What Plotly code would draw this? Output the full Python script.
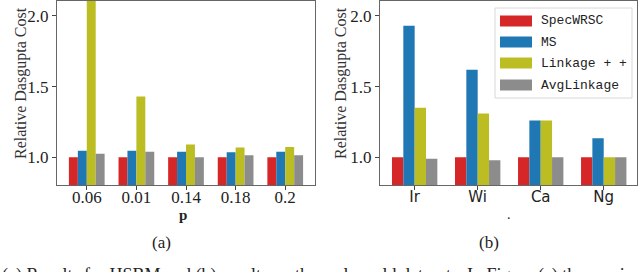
import plotly.graph_objects as go

# ---------------- data ----------------
methods = ["SpecWRSC", "MS", "Linkage++", "AvgLinkage"]
legend_labels = ["SpecWRSC", "MS", "Linkage + +", "AvgLinkage"]
colors = ["#d62728", "#1f77b4", "#bcbd22", "#8c8c8c"]

p_values = ["0.06", "0.01", "0.14", "0.18", "0.2"]
hsbm_specwrsc = [1.0, 1.0, 1.0, 1.0, 1.0]
hsbm_ms = [1.047, 1.047, 1.04, 1.035, 1.04]
hsbm_linkage = [2.2, 1.43, 1.09, 1.07, 1.073]
hsbm_avg = [1.026, 1.04, 1.0, 1.014, 1.014]

datasets = ["Ir", "Wi", "Ca", "Ng"]
real_specwrsc = [1.0, 1.0, 1.0, 1.0]
real_ms = [1.93, 1.62, 1.26, 1.135]
real_linkage = [1.35, 1.31, 1.26, 1.0]
real_avg = [0.99, 0.98, 1.0, 1.0]

y_ticks = [1.0, 1.5, 2.0]

hsbm = [hsbm_specwrsc, hsbm_ms, hsbm_linkage, hsbm_avg]
real = [real_specwrsc, real_ms, real_linkage, real_avg]

W, H = 640, 272
def px(x):
    return x / W
def py(y):
    return 1 - y / H

fig = go.Figure()
for i, m in enumerate(methods):
    fig.add_trace(go.Bar(x=p_values, y=hsbm[i], name=m, marker_color=colors[i],
                         marker_line_width=0, xaxis="x", yaxis="y", showlegend=False,
                         offsetgroup=str(i)))
    fig.add_trace(go.Bar(x=datasets, y=real[i], name=m, marker_color=colors[i],
                         marker_line_width=0, xaxis="x2", yaxis="y2", showlegend=False,
                         offsetgroup=str(i)))

serif = "Liberation Serif, serif"
axis_common = dict(showline=True, mirror=True, linecolor="#666", linewidth=1,
                   ticks="outside", ticklen=4, tickcolor="#444", showgrid=False,
                   zeroline=False)

ydom = [py(185), py(1)]
fig.update_layout(
    width=W, height=H, margin=dict(l=0, r=0, t=0, b=0),
    paper_bgcolor="white", plot_bgcolor="white",
    barmode="group", bargap=0.28, bargroupgap=0,
    xaxis=dict(domain=[px(57), px(315)], type="category", range=[-0.6, 4.6],
               anchor="y", ticklabelstandoff=-7,
               tickfont=dict(family=serif, size=17, color="#222"), **axis_common),
    yaxis=dict(domain=ydom, range=[0.804, 2.106], anchor="x", tickvals=y_ticks,
               ticktext=[f"{v:.1f}" for v in y_ticks],
               tickfont=dict(family=serif, size=17, color="#222"), **axis_common),
    xaxis2=dict(domain=[px(380), px(636.5)], type="category", range=[-0.55, 3.52],
                anchor="y2", ticklabelstandoff=-6,
                tickfont=dict(family="DejaVu Sans", size=15, color="#222"), **axis_common),
    yaxis2=dict(domain=ydom, range=[0.804, 2.106], anchor="x2", tickvals=y_ticks,
                ticktext=[f"{v:.1f}" for v in y_ticks],
                tickfont=dict(family=serif, size=17, color="#222"), **axis_common),
)

ann = []
# y-axis titles
for xc in (21, 341):
    ann.append(dict(x=px(xc), y=py(83), xref="paper", yref="paper", text="Relative Dasgupta Cost",
                    textangle=-90, showarrow=False, font=dict(family=serif, size=16, color="#333"),
                    xanchor="center", yanchor="middle"))
# x-axis titles
ann.append(dict(x=px(183), y=py(215), xref="paper", yref="paper", text="<b>p</b>", showarrow=False,
                font=dict(family=serif, size=15, color="#222"), xanchor="center", yanchor="middle"))
ann.append(dict(x=px(509), y=py(214), xref="paper", yref="paper", text=".", showarrow=False,
                font=dict(family=serif, size=14, color="#222"), xanchor="center", yanchor="middle"))
# subfigure captions
ann.append(dict(x=px(161), y=py(242), xref="paper", yref="paper", text="(a)", showarrow=False,
                font=dict(family=serif, size=17, color="#222"), xanchor="center", yanchor="middle"))
ann.append(dict(x=px(489), y=py(242), xref="paper", yref="paper", text="(b)", showarrow=False,
                font=dict(family=serif, size=17, color="#222"), xanchor="center", yanchor="middle"))
# cut-off figure caption
ann.append(dict(x=px(0), y=py(263), xref="paper", yref="paper",
                text="(a) Results for HSBM and (b) results on the real-world datasets. In Figure (a) the maximum",
                showarrow=False, font=dict(family=serif, size=18, color="#222"),
                xanchor="left", yanchor="top"))

# manual legend
shapes = [dict(type="rect", xref="paper", yref="paper", x0=px(495), x1=px(632), y0=py(98), y1=py(8),
               line=dict(color="#d8d8d8", width=1), fillcolor="rgba(255,255,255,0.85)", layer="above")]
rows = [21, 42, 63, 85]
for i, lab in enumerate(legend_labels):
    yc = rows[i]
    shapes.append(dict(type="rect", xref="paper", yref="paper", x0=px(500), x1=px(532),
                       y0=py(yc + 5.5), y1=py(yc - 5.5), line=dict(width=0),
                       fillcolor=colors[i], layer="above"))
    ann.append(dict(x=px(539), y=py(yc), xref="paper", yref="paper", text=lab, showarrow=False,
                    font=dict(family="Liberation Mono", size=13, color="#222"),
                    xanchor="left", yanchor="middle"))

fig.update_layout(annotations=ann, shapes=shapes)
fig.write_html("out.html", config={"displayModeBar": False},
               post_script="document.body.style.margin='0';document.body.style.overflow='hidden';")
